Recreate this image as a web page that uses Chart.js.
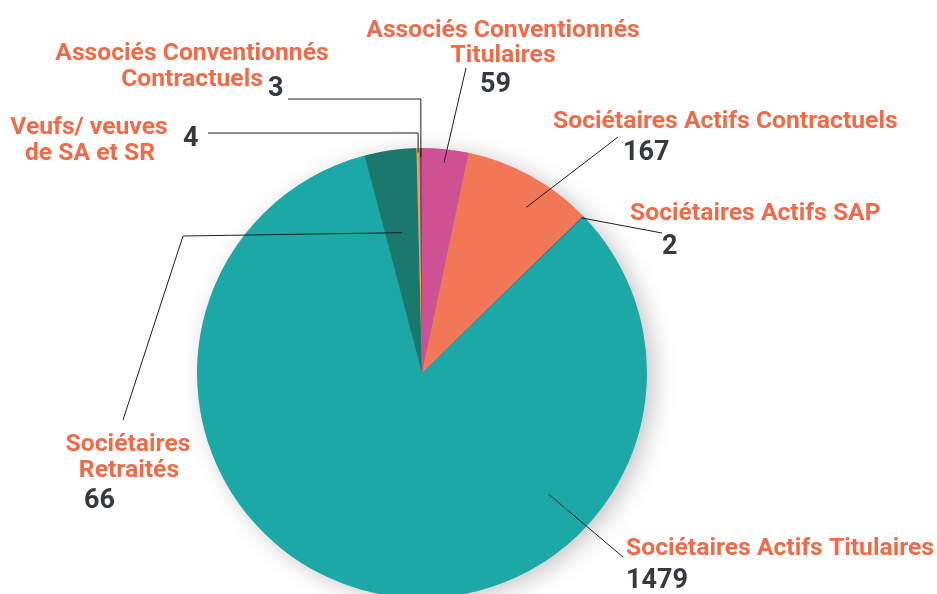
<!DOCTYPE html>
<html>
<head>
<meta charset="utf-8">
<script src="https://cdn.jsdelivr.net/npm/chart.js@4/dist/chart.umd.min.js"></script>
<style>
  html, body { margin: 0; padding: 0; background: #fff; overflow: hidden; }
  #wrap { position: relative; width: 937px; height: 620px; }
</style>
</head>
<body>
<div id="wrap"><canvas id="pie"></canvas></div>
<script>
// members by category, clockwise from 12 o'clock
const categories = [
	'Associés Conventionnés Titulaires',
	'Sociétaires Actifs Contractuels',
	'Sociétaires Actifs SAP',
	'Sociétaires Actifs Titulaires',
	'Sociétaires Retraités',
	'Veufs/ veuves de SA et SR',
	'Associés Conventionnés Contractuels'
];
const counts = [59, 167, 2, 1479, 66, 4, 3];
const sliceColors = ['#d05193', '#f27756', '#2f7d9b', '#1ca8a6', '#1b786c', '#f5a235', '#8a3f95'];

// where each caption goes and how its leader line runs
// along = position inside the slice (0..1), r = fraction of the radius
const callouts = [
	{ lines: [[503, 37], [503, 62]], align: 'center', num: [480, 92], along: 0.5, r: 0.94, path: [[466, 68]] },
	{ lines: [[553, 128]], align: 'left', num: [623, 160], along: 0.6, r: 0.87, path: [[618, 137]] },
	{ lines: [[630, 220]], align: 'left', num: [662, 254], along: 0.5, r: 0.99, path: [[662, 233]] },
	{ lines: [[626, 555]], align: 'left', num: [626, 588], along: 0.293, r: 0.78, path: [[623, 557]] },
	{ lines: [[128, 451], [129, 477]], align: 'center', num: [84, 508], along: 0.5, r: 0.63, path: [[183, 236], [123, 420]] },
	{ lines: [[89, 134], [90, 160]], align: 'center', num: [183, 146], along: 0.5, r: 0.98, path: [[null, 133], [208, 133]] },
	{ lines: [[192, 60], [192, 86]], align: 'center', num: [268, 96], along: 0.5, r: 0.96, path: [[null, 99], [288, 99]] }
];
const captionLines = [
	['Associés Conventionnés', 'Titulaires'],
	['Sociétaires Actifs Contractuels'],
	['Sociétaires Actifs SAP'],
	['Sociétaires Actifs Titulaires'],
	['Sociétaires', 'Retraités'],
	['Veufs/ veuves', 'de SA et SR'],
	['Associés Conventionnés', 'Contractuels']
];

const shadowPlugin = {
	id: 'pieShadow',
	beforeDatasetsDraw(chart) {
		const arc = chart.getDatasetMeta(0).data[0];
		if (!arc) return;
		const ctx = chart.ctx;
		ctx.save();
		ctx.shadowColor = 'rgba(0,0,0,0.24)';
		ctx.shadowBlur = 24;
		ctx.shadowOffsetX = 7;
		ctx.shadowOffsetY = 4;
		ctx.fillStyle = '#1ca8a6';
		ctx.beginPath();
		ctx.arc(arc.x, arc.y, arc.outerRadius - 1, 0, Math.PI * 2);
		ctx.fill();
		ctx.restore();
	}
};

const calloutPlugin = {
	id: 'callouts',
	afterDatasetsDraw(chart) {
		const ctx = chart.ctx;
		const arcs = chart.getDatasetMeta(0).data;
		ctx.save();
		// leader lines
		ctx.strokeStyle = '#1e1e1e';
		ctx.lineWidth = 1;
		callouts.forEach((c, i) => {
			const a = arcs[i];
			const ang = a.startAngle + (a.endAngle - a.startAngle) * c.along;
			let x = a.x + Math.cos(ang) * a.outerRadius * c.r;
			let y = a.y + Math.sin(ang) * a.outerRadius * c.r;
			ctx.beginPath();
			ctx.moveTo(x, y);
			c.path.forEach(p => {
				x = p[0] === null ? x : p[0];
				y = p[1] === null ? y : p[1];
				ctx.lineTo(x, y);
			});
			ctx.stroke();
		});
		// captions and values
		ctx.textBaseline = 'alphabetic';
		callouts.forEach((c, i) => {
			ctx.fillStyle = '#f26b48';
			ctx.font = 'bold 24.7px Roboto';
			ctx.textAlign = c.align;
			captionLines[i].forEach((t, k) => ctx.fillText(t, c.lines[k][0], c.lines[k][1]));
			ctx.fillStyle = '#353a3e';
			ctx.font = 'bold 27px Roboto';
			ctx.textAlign = 'left';
			ctx.fillText(String(counts[i]), c.num[0], c.num[1]);
		});
		ctx.restore();
	}
};

new Chart(document.getElementById('pie'), {
	type: 'pie',
	data: {
		labels: categories,
		datasets: [{
			data: counts,
			backgroundColor: sliceColors,
			borderWidth: 0
		}]
	},
	options: {
		responsive: true,
		maintainAspectRatio: false,
		animation: false,
		events: [],
		layout: { padding: { top: 148, left: 197, right: 290, bottom: 22 } },
		plugins: { legend: { display: false }, tooltip: { enabled: false } }
	},
	plugins: [shadowPlugin, calloutPlugin]
});
</script>
</body>
</html>
